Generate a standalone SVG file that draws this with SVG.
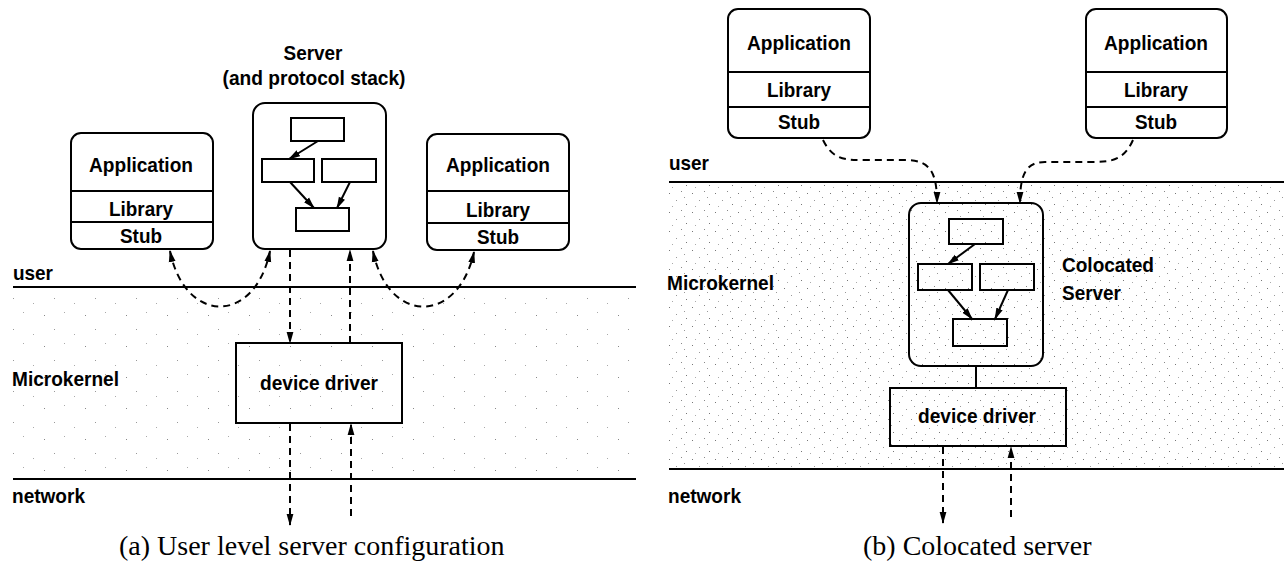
<svg xmlns="http://www.w3.org/2000/svg" width="1284" height="568" viewBox="0 0 1284 568">
<style>
.box{fill:none;stroke:#000;stroke-width:2}
.ln{fill:none;stroke:#000;stroke-width:2}
.dash{fill:none;stroke:#000;stroke-width:2;stroke-dasharray:7,5}
.t{font-family:"Liberation Sans",Arial,sans-serif;font-weight:bold;font-size:20.5px;fill:#000}
.c{text-anchor:middle}
.cap{font-family:"Liberation Serif","Times New Roman",serif;font-size:28px;fill:#000}
</style>
<defs>
<marker id="ah" viewBox="0 0 12 8" refX="11" refY="4" markerWidth="12" markerHeight="8" markerUnits="userSpaceOnUse" orient="auto-start-reverse">
<path d="M0,0.6 L12,4 L0,7.4 Z" fill="#000"/>
</marker>
<pattern id="dotsA" width="41" height="31" patternUnits="userSpaceOnUse">
<rect x="3" y="5" width="1" height="1" fill="#888"/>
<rect x="23" y="2" width="1" height="1" fill="#aaa"/>
<rect x="13" y="19" width="1" height="1" fill="#999"/>
<rect x="33" y="24" width="1" height="1" fill="#aaa"/>
</pattern>
<pattern id="dotsB" width="23" height="19" patternUnits="userSpaceOnUse">
<rect x="2" y="3" width="1" height="1" fill="#777"/>
<rect x="14" y="1" width="1" height="1" fill="#888"/>
<rect x="9" y="10" width="1" height="1" fill="#999"/>
<rect x="19" y="14" width="1" height="1" fill="#777"/>
<rect x="5" y="16" width="1" height="1" fill="#aaa"/>
<rect x="17" y="7" width="1" height="1" fill="#999"/>
</pattern>
</defs>

<!-- background stipple -->
<rect x="13" y="288" width="623" height="190" fill="url(#dotsA)"/>
<rect x="669" y="183" width="615" height="285" fill="url(#dotsB)"/>

<!-- ===== Panel (a) ===== -->
<g id="layers-a">
<line class="ln" x1="13" y1="287" x2="636" y2="287"/>
<line class="ln" x1="13" y1="479" x2="636" y2="479"/>
<text class="t" x="13" y="280" textLength="40" lengthAdjust="spacingAndGlyphs">user</text>
<text class="t" x="12" y="386" textLength="107" lengthAdjust="spacingAndGlyphs">Microkernel</text>
<text class="t" x="12" y="503" textLength="73" lengthAdjust="spacingAndGlyphs">network</text>
</g>

<g id="app-a-left">
<rect class="box" x="71" y="133" width="142" height="116" rx="10"/>
<line class="ln" x1="71" y1="191" x2="213" y2="191"/>
<line class="ln" x1="71" y1="222" x2="213" y2="222"/>
<text class="t c" x="141" y="172" textLength="104" lengthAdjust="spacingAndGlyphs">Application</text>
<text class="t c" x="141" y="216" textLength="64" lengthAdjust="spacingAndGlyphs">Library</text>
<text class="t c" x="141" y="243" textLength="42" lengthAdjust="spacingAndGlyphs">Stub</text>
</g>

<g id="server-a">
<text class="t c" x="313" y="60" textLength="59" lengthAdjust="spacingAndGlyphs">Server</text>
<text class="t c" x="314" y="85" textLength="183" lengthAdjust="spacingAndGlyphs">(and protocol stack)</text>
<rect class="box" x="253" y="103" width="133" height="146" rx="12"/>
<rect class="box" x="291" y="118" width="53" height="23"/>
<rect class="box" x="262" y="159" width="52" height="23"/>
<rect class="box" x="322" y="159" width="54" height="23"/>
<rect class="box" x="296" y="208" width="53" height="23"/>
<line class="ln" x1="318" y1="141" x2="289" y2="159" marker-end="url(#ah)"/>
<line class="ln" x1="290" y1="182" x2="314" y2="208" marker-end="url(#ah)"/>
<line class="ln" x1="350" y1="182" x2="337" y2="208" marker-end="url(#ah)"/>
</g>

<g id="app-a-right">
<rect class="box" x="427" y="134" width="142" height="116" rx="10"/>
<line class="ln" x1="427" y1="191" x2="569" y2="191"/>
<line class="ln" x1="427" y1="223" x2="569" y2="223"/>
<text class="t c" x="498" y="172" textLength="104" lengthAdjust="spacingAndGlyphs">Application</text>
<text class="t c" x="498" y="217" textLength="64" lengthAdjust="spacingAndGlyphs">Library</text>
<text class="t c" x="498" y="244" textLength="42" lengthAdjust="spacingAndGlyphs">Stub</text>
</g>

<g id="driver-a">
<rect class="box" x="236" y="343" width="166" height="80"/>
<text class="t c" x="319" y="390" textLength="118" lengthAdjust="spacingAndGlyphs">device driver</text>
</g>

<g id="connectors-a">
<path class="dash" d="M170,251 C185,325 255,325 270,251" marker-start="url(#ah)" marker-end="url(#ah)"/>
<path class="dash" d="M373,251 C388,325 458,325 474,252" marker-start="url(#ah)" marker-end="url(#ah)"/>
<line class="dash" x1="290" y1="250" x2="290" y2="343" marker-end="url(#ah)"/>
<line class="dash" x1="350" y1="343" x2="350" y2="250" marker-end="url(#ah)"/>
<line class="dash" x1="290" y1="424" x2="290" y2="525" marker-end="url(#ah)"/>
<line class="dash" x1="351" y1="516" x2="351" y2="424" marker-end="url(#ah)"/>
</g>

<text class="cap" x="119" y="555">(a) User level server configuration</text>

<!-- ===== Panel (b) ===== -->
<g id="layers-b">
<line class="ln" x1="669" y1="182" x2="1284" y2="182"/>
<line class="ln" x1="669" y1="469" x2="1284" y2="469"/>
<text class="t" x="669" y="170" textLength="40" lengthAdjust="spacingAndGlyphs">user</text>
<text class="t" x="667" y="290" textLength="107" lengthAdjust="spacingAndGlyphs">Microkernel</text>
<text class="t" x="668" y="503" textLength="73" lengthAdjust="spacingAndGlyphs">network</text>
</g>

<g id="app-b-left">
<rect class="box" x="728" y="9" width="142" height="129" rx="10"/>
<line class="ln" x1="728" y1="72" x2="870" y2="72"/>
<line class="ln" x1="728" y1="107" x2="870" y2="107"/>
<text class="t c" x="799" y="50" textLength="104" lengthAdjust="spacingAndGlyphs">Application</text>
<text class="t c" x="799" y="97" textLength="64" lengthAdjust="spacingAndGlyphs">Library</text>
<text class="t c" x="799" y="129" textLength="42" lengthAdjust="spacingAndGlyphs">Stub</text>
</g>

<g id="app-b-right">
<rect class="box" x="1086" y="9" width="141" height="129" rx="10"/>
<line class="ln" x1="1086" y1="72" x2="1227" y2="72"/>
<line class="ln" x1="1086" y1="107" x2="1227" y2="107"/>
<text class="t c" x="1156" y="50" textLength="104" lengthAdjust="spacingAndGlyphs">Application</text>
<text class="t c" x="1156" y="97" textLength="64" lengthAdjust="spacingAndGlyphs">Library</text>
<text class="t c" x="1156" y="129" textLength="42" lengthAdjust="spacingAndGlyphs">Stub</text>
</g>

<g id="server-b">
<rect class="box" x="909" y="203" width="134" height="163" rx="12"/>
<rect class="box" x="949" y="219" width="54" height="25"/>
<rect class="box" x="918" y="264" width="54" height="26"/>
<rect class="box" x="980" y="264" width="54" height="26"/>
<rect class="box" x="953" y="319" width="54" height="27"/>
<line class="ln" x1="975" y1="244" x2="948" y2="264" marker-end="url(#ah)"/>
<line class="ln" x1="948" y1="290" x2="972" y2="319" marker-end="url(#ah)"/>
<line class="ln" x1="1008" y1="290" x2="995" y2="319" marker-end="url(#ah)"/>
<text class="t" x="1062" y="272" textLength="92" lengthAdjust="spacingAndGlyphs">Colocated</text>
<text class="t" x="1062" y="300" textLength="59" lengthAdjust="spacingAndGlyphs">Server</text>
</g>

<g id="driver-b">
<rect class="box" x="890" y="388" width="176" height="58"/>
<text class="t c" x="977" y="423" textLength="118" lengthAdjust="spacingAndGlyphs">device driver</text>
</g>

<g id="connectors-b">
<path class="dash" d="M823,140 C833,160 845,160 865,160 L905,160 C930,160 937,172 937,203" marker-end="url(#ah)"/>
<path class="dash" d="M1133,140 C1124,160 1112,162 1092,162 L1045,162 C1026,162 1020,174 1020,203" marker-end="url(#ah)"/>
<line class="ln" x1="976" y1="366" x2="976" y2="388"/>
<line class="dash" x1="943" y1="447" x2="943" y2="523" marker-end="url(#ah)"/>
<line class="dash" x1="1011" y1="517" x2="1011" y2="447" marker-end="url(#ah)"/>
</g>

<text class="cap" x="863" y="555">(b) Colocated server</text>
</svg>
